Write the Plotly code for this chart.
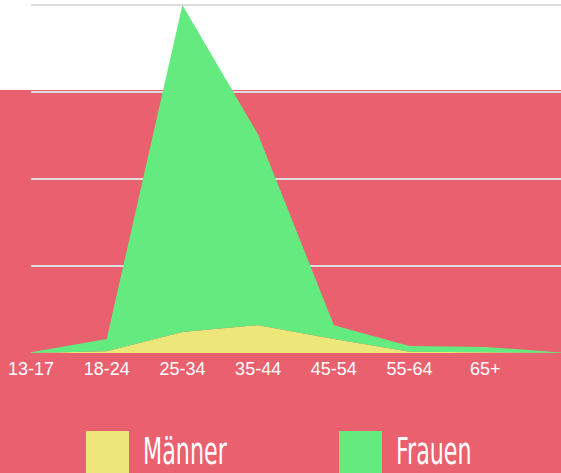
import plotly.graph_objects as go

categories = ["13-17", "18-24", "25-34", "35-44", "45-54", "55-64", "65+", ""]
maenner = [0.0, 0.2, 2.4, 3.2, 1.6, 0.15, 0.1, 0.0]
frauen = [0.1, 1.4, 37.6, 21.9, 1.6, 0.65, 0.6, 0.05]
series_names = ["Männer", "Frauen"]

PINK = "#E9606F"
YELLOW = "#EDE679"
GREEN = "#64EB7F"
GRID = "#DDDDDD"

W, H = 561, 473
L, R, T, B = 31, 0, 0, 120
pw, ph = W - L - R, H - T - B
Y_TOP_PX = 5  # pixel row where the value 40 lies
y_max = 40 * ph / (ph - Y_TOP_PX)

def px_x(x):
    return (x - L) / pw

def px_y(y):
    return (H - B - y) / ph

xs = list(range(len(categories)))

fig = go.Figure()
fig.add_trace(go.Scatter(x=xs, y=maenner, name=series_names[0], mode="lines",
                         line=dict(width=0, color=YELLOW), fillcolor=YELLOW,
                         stackgroup="one", hoverinfo="x+y"))
fig.add_trace(go.Scatter(x=xs, y=frauen, name=series_names[1], mode="lines",
                         line=dict(width=0, color=GREEN), fillcolor=GREEN,
                         stackgroup="one", hoverinfo="x+y"))

shapes = [
    dict(type="rect", xref="paper", yref="paper", x0=px_x(-5), x1=px_x(W + 5),
         y0=px_y(90), y1=px_y(-5), fillcolor="white", line=dict(width=0), layer="below"),
]
annotations = []
legend_items = [(86, 141, YELLOW, series_names[0]), (339, 394, GREEN, series_names[1])]
for sx, tx, col, name in legend_items:
    shapes.append(dict(type="rect", xref="paper", yref="paper", x0=px_x(sx), x1=px_x(sx + 43),
                       y0=px_y(480), y1=px_y(431), fillcolor=col, line=dict(width=0)))
    annotations.append(dict(text=name, xref="paper", yref="paper", x=px_x(tx), y=px_y(451),
                            xanchor="left", yanchor="middle", showarrow=False,
                            font=dict(family="DejaVu Sans Condensed, sans-serif",
                                      size=38, color="white")))

fig.update_layout(
    width=W, height=H,
    margin=dict(l=L, r=R, t=T, b=B),
    paper_bgcolor=PINK, plot_bgcolor="rgba(0,0,0,0)",
    showlegend=False,
    shapes=shapes, annotations=annotations,
    xaxis=dict(range=[0, 7], tickmode="array", tickvals=xs, ticktext=categories,
               showgrid=False, zeroline=False, showline=False, ticks="",
               ticklabelstandoff=3,
               tickfont=dict(family="Liberation Sans, Arial, sans-serif", size=18, color="white")),
    yaxis=dict(range=[0, y_max], tickvals=[0, 10, 20, 30, 40], showgrid=True,
               gridcolor=GRID, gridwidth=2,
               zeroline=False, showticklabels=False, ticks=""),
)

post = """
document.body.style.margin = '0';
document.body.style.padding = '0';
var gd = document.getElementById('{plot_id}');
function squeeze() {
  var els = gd.querySelectorAll('.annotation-text');
  els.forEach(function (e) {
    e.style.transformBox = 'fill-box';
    e.style.transformOrigin = 'left center';
    e.style.transform = 'scaleX(0.65)';
  });
}
squeeze();
if (gd.on) { gd.on('plotly_afterplot', squeeze); }
"""

fig.write_html("out.html", post_script=post, config={"displayModeBar": False})
